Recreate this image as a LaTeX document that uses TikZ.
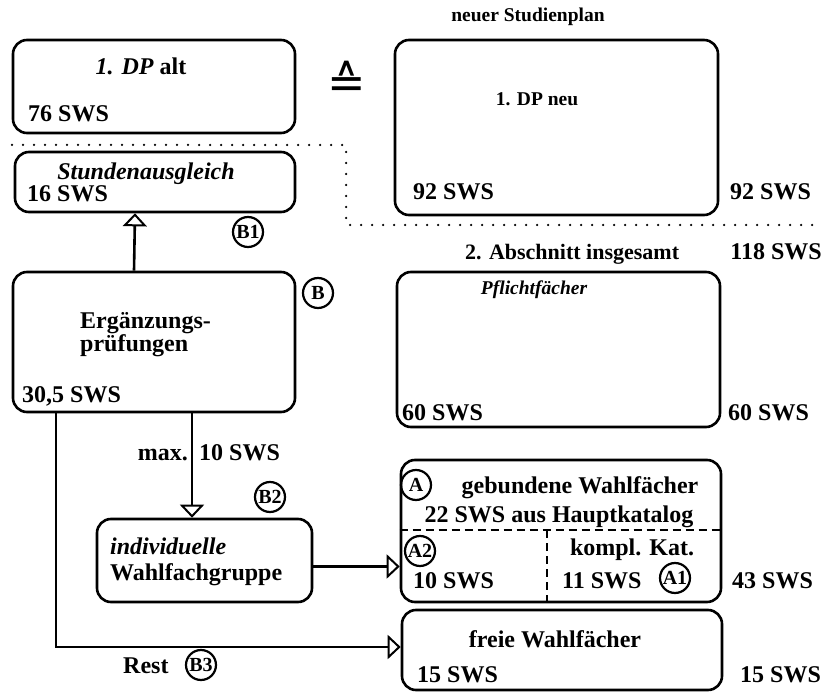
\documentclass[tikz,border=0pt]{standalone}
\usepackage{fontspec}
\setmainfont{Liberation Serif}
\newfontfamily\symfont{DejaVu Sans}
\usetikzlibrary{arrows.meta,positioning}
\begin{document}
\begin{tikzpicture}[x=1pt,y=-1pt,inner sep=0pt,
  font=\fontsize{24}{26}\selectfont\bfseries,
  box/.style={draw,line width=2.6pt,rounded corners=14pt},
  tag/.style={draw,circle,line width=2.2pt,minimum size=30pt,font=\fontsize{20}{20}\selectfont\bfseries},
  flow/.style={line width=2.6pt,-{Triangle[open,width=24pt,length=13pt,line width=2pt]}},
  small/.style={font=\fontsize{19.5}{21}\selectfont\bfseries},
  sep/.style={line width=2pt,dash pattern=on 8pt off 5pt}]
\useasboundingbox (0,0) rectangle (824,692);
% old plan
\node[box,minimum width=282pt,minimum height=93pt] (dpalt) at (154,86.5) {};
\node[anchor=base] (dpalttxt) at (141,75) {\textit{1. DP} alt};
\node[anchor=base west] (dpaltsws) at (28,122) {76 SWS};
\node[font=\symfont\fontsize{46}{48}\selectfont] (gleich) at (347,80) {≙};
\node[box,minimum width=280pt,minimum height=60pt] (ausgl) at (155,182) {};
\node[anchor=base] (ausgltxt) at (146,180) {\itshape Stundenausgleich};
\node[anchor=base west] (ausglsws) at (27,202) {16 SWS};
\node[tag] (b1) at (248,232) {B1};
\node[box,minimum width=282pt,minimum height=140pt] (erg) at (154,342) {};
\node[anchor=base west] (ergtxt) at (80,329) {Ergänzungs-};
\node[anchor=base west] (ergtxtb) at (80,352) {prüfungen};
\node[anchor=base west] (ergsws) at (22,402) {30,5 SWS};
\node[tag] (b) at (318,293) {B};
\node[box,minimum width=215pt,minimum height=83pt] (indiv) at (204.5,560.5) {};
\node[anchor=base west] (indivtxt) at (110,554) {\itshape individuelle};
\node[anchor=base west] (indivtxtb) at (110,580) {Wahlfachgruppe};
\node[tag] (b2) at (270,497) {B2};
\node[anchor=base east] (maxtxt) at (188,460) {max.};
\node[anchor=base west] (maxsws) at (199,460) {10 SWS};
\node[anchor=base west] (rest) at (123,673) {Rest};
\node[tag] (b3) at (201,665) {B3};
% new plan
\node[small,anchor=base] (neu) at (528,22) {neuer Studienplan};
\node[box,minimum width=323pt,minimum height=175pt] (dpneu) at (556.5,127.5) {};
\node[small,anchor=base] (dpneutxt) at (537,106) {1. DP neu};
\node[anchor=base west] (dpneusws) at (413,200) {92 SWS};
\node[anchor=base west] (dpneusum) at (730,200) {92 SWS};
\draw[line width=2.5pt,line cap=round,dash pattern=on 0pt off 11pt]
  (12,145) -- (346,145) -- (346,225) -- (820,225);
\node[anchor=base west,font=\fontsize{22}{24}\selectfont\bfseries] (abschn) at (465,260) {2. Abschnitt insgesamt};
\node[anchor=base east] (abschnsum) at (822,260) {118 SWS};
\node[box,minimum width=323pt,minimum height=155pt] (pflicht) at (558.5,349.5) {};
\node[small,anchor=base] (pflichttxt) at (534,295) {\itshape Pflichtfächer};
\node[anchor=base west] (pflichtsws) at (402,420) {60 SWS};
\node[anchor=base west] (pflichtsum) at (728,420) {60 SWS};
\node[box,minimum width=320pt,minimum height=142pt] (gebunden) at (561,531) {};
\node[tag] (a) at (416,485) {A};
\node[anchor=base] (gebtxt) at (580,493) {gebundene Wahlfächer};
\node[anchor=base] (gebtxtb) at (559,522) {22 SWS aus Hauptkatalog};
\draw[sep] (gebunden.west |- 0,530) -- (gebunden.east |- 0,530);
\draw[sep] (547,530) -- (547,530 |- gebunden.south);
\node[tag] (a2) at (420,551) {A2};
\node[anchor=base west] (a2sws) at (413,588) {10 SWS};
\node[anchor=base] (kompl) at (632,555) {kompl. Kat.};
\node[anchor=base west] (a1sws) at (562,588) {11 SWS};
\node[tag] (a1) at (675,578) {A1};
\node[anchor=base west] (gebsum) at (732,588) {43 SWS};
\node[box,minimum width=320pt,minimum height=80pt] (freie) at (562,650) {};
\node[anchor=base] (freietxt) at (555,647) {freie Wahlfächer};
\node[anchor=base west] (freiesws) at (417,682) {15 SWS};
\node[anchor=base west] (freiesum) at (740,682) {15 SWS};
% connectors
\draw[flow] ([xshift=-20pt]erg.north) -- ([xshift=-20pt]ausgl.south);
\draw[flow] ([xshift=38pt]erg.south) -- ([xshift=38pt]erg.south |- indiv.north);
\draw[flow] ([xshift=-98pt]erg.south) |- ([yshift=3pt]freie.west);
\draw[flow] ([yshift=-6pt]indiv.east) -- ([yshift=-6pt]indiv.east -| gebunden.west);
\end{tikzpicture}
\end{document}
